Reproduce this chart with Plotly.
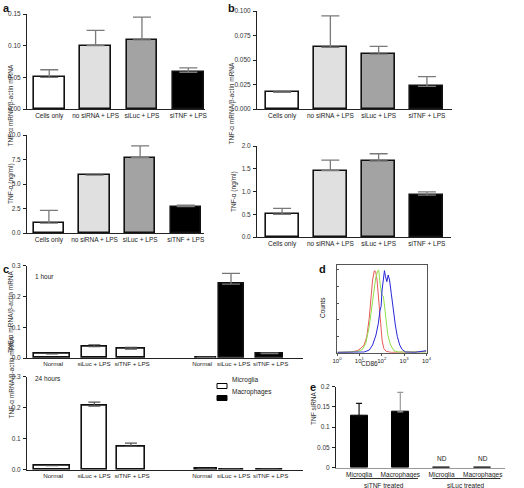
import plotly.graph_objects as go

W, H = 524, 488
FONT = "Arial, Liberation Sans, DejaVu Sans"

# ---------------- data ----------------
ab_categories = ["Cells only", "no siRNA + LPS", "siLuc + LPS", "siTNF + LPS"]
ab_colors = ["#ffffff", "#e0e0e0", "#a3a3a3", "#000000"]

a_mrna = [0.050, 0.100, 0.109, 0.058]
a_mrna_err = [0.012, 0.024, 0.036, 0.007]
a_protein = [1.0, 5.9, 7.7, 2.7]
a_protein_err = [1.3, 0.0, 1.2, 0.15]

b_mrna = [0.017, 0.063, 0.056, 0.023]
b_mrna_err = [0.0005, 0.032, 0.008, 0.010]
b_protein = [0.50, 1.46, 1.67, 0.92]
b_protein_err = [0.13, 0.23, 0.16, 0.07]

c_categories = ["Normal", "siLuc + LPS", "siTNF + LPS"]
c1_microglia = [0.013, 0.037, 0.029]
c1_microglia_err = [0.0, 0.006, 0.006]
c1_macrophages = [0.002, 0.240, 0.014]
c1_macrophages_err = [0.0, 0.035, 0.002]
c24_microglia = [0.013, 0.205, 0.075]
c24_microglia_err = [0.0, 0.013, 0.011]
c24_macrophages = [0.002, 0.001, 0.001]
c24_macrophages_err = [0.0, 0.0, 0.0]

# panel d: flow cytometry histograms (CD86 intensity, % of max counts)
d_red_x = [1.07, 4.0, 8.1, 11.5, 16.3, 21.5, 27.5, 32.7, 38.9, 46.6, 53.4, 61.5, 72.9, 86.9, 103.5, 123, 158, 264, 1513, 9800]
d_red_y = [0.4, 0.8, 2.4, 5.2, 9.3, 19.4, 41.5, 63.7, 87.9, 99.2, 98.0, 87.9, 63.7, 35.5, 15.3, 5.2, 1.6, 0.4, 0.4, 1.2]
d_green_x = [1.07, 8.1, 13.7, 19.4, 27.5, 35.1, 43.3, 53.4, 65.8, 73.1, 84.0, 100, 119, 147, 187, 248, 351, 533, 3055, 9800]
d_green_y = [0.4, 1.2, 4.0, 11.3, 31.5, 51.6, 71.8, 89.9, 98.8, 100, 83.9, 69.8, 67.7, 43.5, 21.4, 9.3, 2.4, 0.8, 0.4, 0.8]
d_blue_x = [1.07, 16.3, 27.5, 39.0, 55.2, 70.5, 84.0, 93.3, 103.5, 119, 132, 147, 169, 194, 223, 266, 327, 404, 498, 635, 811, 1150, 3055, 9800]
d_blue_y = [0.4, 0.8, 3.2, 9.3, 21.4, 35.5, 51.6, 55.6, 75.8, 89.9, 99.2, 91.9, 85.9, 93.9, 87.9, 71.8, 51.6, 33.5, 19.4, 9.3, 4.0, 0.8, 0.4, 2.4]
d_tick_vals = [1, 10, 100, 1000, 10000]
d_tick_text = ["10<sup>0</sup>", "10<sup>1</sup>", "10<sup>2</sup>", "10<sup>3</sup>", "10<sup>4</sup>"]

e_categories = ["Microglia", "Macrophages", "Microglia", "Macrophages"]
e_groups = ["siTNF treated", "siLuc treated"]
e_values = [0.128, 0.138, 0.0005, 0.0005]
e_err = [0.031, 0.048, 0.0, 0.0]
e_nd = [False, False, True, True]

# ---------------- helpers ----------------
def dx(l, r):
    return [l / W, r / W]

def dy(top, bottom):
    return [1 - bottom / H, 1 - top / H]

fig = go.Figure()
layout = dict(
    width=W, height=H, margin=dict(l=0, r=0, t=0, b=0),
    paper_bgcolor="white", plot_bgcolor="white", showlegend=False,
    font=dict(family=FONT, size=7, color="#222"),
    bargap=0,
)
annotations = []
shapes = []

def yaxis_common(rng, dtick, fmt, dom, anchor):
    return dict(domain=dom, anchor=anchor, range=rng, dtick=dtick, tickformat=fmt,
                showline=True, linecolor="#222", linewidth=1, ticks="outside",
                ticklen=3, tickcolor="#222", showgrid=False, zeroline=False,
                automargin=False, ticklabelstandoff=1,
                tickfont=dict(size=6.5, family=FONT, color="#333"))

def xaxis_common(rng, tickvals, ticktext, dom, anchor, size=6.5):
    return dict(domain=dom, anchor=anchor, range=rng, tickvals=tickvals, ticktext=ticktext,
                showline=True, linecolor="#222", linewidth=1, ticks="", showgrid=False,
                zeroline=False, automargin=False, tickangle=0,
                tickfont=dict(size=size, family=FONT, color="#222"))

def add_ab(idx, vals, errs, xdom, ydom, yr, dtick, fmt, xr, width, ytitle, title_x, title_y):
    xn = "x" if idx == 1 else f"x{idx}"
    yn = "y" if idx == 1 else f"y{idx}"
    pos = list(range(len(ab_categories)))
    fig.add_trace(go.Bar(
        x=pos, y=vals, width=width, xaxis=xn, yaxis=yn,
        marker=dict(color=ab_colors, line=dict(color="#111", width=1.6)),
        error_y=dict(type="data", symmetric=False, array=errs, arrayminus=[0] * len(errs),
                     color="#7a7a7a", thickness=1.3, width=9),
    ))
    layout["xaxis" if idx == 1 else f"xaxis{idx}"] = xaxis_common(xr, pos, ab_categories, xdom, yn)
    layout["yaxis" if idx == 1 else f"yaxis{idx}"] = yaxis_common(yr, dtick, fmt, ydom, xn)
    annotations.append(dict(text=ytitle, textangle=-90, x=title_x / W, y=1 - title_y / H,
                            xref="paper", yref="paper", showarrow=False,
                            font=dict(size=6.5, family=FONT, color="#333")))

# panel a
add_ab(1, a_mrna, a_mrna_err, dx(27, 205), dy(14, 109), [0, 0.15], 0.05, ".2f",
       [-0.48, 3.36], 0.66, "TNF-α mRNA/β-actin mRNA", 5, 62)
add_ab(2, a_protein, a_protein_err, dx(27, 204), dy(135, 233), [0, 10], 2.5, ".1f",
       [-0.48, 3.4], 0.66, "TNF-α (ng/ml)", 5, 184)
# panel b
add_ab(3, b_mrna, b_mrna_err, dx(257, 452), dy(11, 109), [0, 0.1], 0.025, ".3f",
       [-0.52, 3.52], 0.68, "TNF-α mRNA/β-actin mRNA", 231, 60)
add_ab(4, b_protein, b_protein_err, dx(257, 451), dy(146, 237), [0, 2.0], 0.5, ".1f",
       [-0.52, 3.5], 0.68, "TNF-α (ng/ml)", 234, 192)

# panel c
c_pos_micro = [0, 1.1, 2.05]
c_pos_macro = [4.0, 4.65, 5.65]
c_tick_pos = [0.03, 1.09, 2.08, 3.9, 4.72, 5.68]
c_w_micro = [0.94, 0.65, 0.73]
c_w_macro = [0.55, 0.65, 0.68]
c_xrange = [-0.65, 6.52]

def add_c(idx, micro, micro_err, macro, macro_err, ydom, label, label_y, title_y):
    xn, yn = f"x{idx}", f"y{idx}"
    fig.add_trace(go.Bar(x=c_pos_micro, y=micro, width=c_w_micro, xaxis=xn, yaxis=yn,
                         marker=dict(color="white", line=dict(color="#111", width=1.6)),
                         error_y=dict(type="data", symmetric=False, array=micro_err,
                                      arrayminus=[0] * 3, color="#555", thickness=1.2, width=6)))
    fig.add_trace(go.Bar(x=c_pos_macro, y=macro, width=c_w_macro, xaxis=xn, yaxis=yn,
                         marker=dict(color="black", line=dict(color="#111", width=1.6)),
                         error_y=dict(type="data", symmetric=False, array=macro_err,
                                      arrayminus=[0] * 3, color="#777", thickness=1.3, width=9)))
    layout[f"xaxis{idx}"] = xaxis_common(c_xrange, c_tick_pos,
                                         c_categories + c_categories, dx(27, 303), yn, size=6.2)
    layout[f"yaxis{idx}"] = yaxis_common([0, 0.3], 0.1, ".1f", ydom, xn)
    annotations.append(dict(text=label, x=33 / W, y=1 - label_y / H, xref="paper", yref="paper",
                            xanchor="left", showarrow=False,
                            font=dict(size=6.5, family=FONT, color="#222")))
    annotations.append(dict(text="TNF-α mRNA/β-actin mRNA", textangle=-90, x=5 / W,
                            y=1 - title_y / H, xref="paper", yref="paper", showarrow=False,
                            font=dict(size=6.5, family=FONT, color="#333")))

add_c(5, c1_microglia, c1_microglia_err, c1_macrophages, c1_macrophages_err,
      dy(265.7, 358), "1 hour", 276, 312)
add_c(6, c24_microglia, c24_microglia_err, c24_macrophages, c24_macrophages_err,
      dy(376.7, 469.7), "24 hours", 384, 421)

# legend for c (drawn manually)
for i, (name, col) in enumerate([("Microglia", "white"), ("Macrophages", "black")]):
    yc = 386 + i * 12
    shapes.append(dict(type="rect", xref="paper", yref="paper", x0=217 / W, x1=227 / W,
                       y0=1 - (yc + 2.5) / H, y1=1 - (yc - 2.5) / H,
                       fillcolor=col, line=dict(color="black", width=1)))
    annotations.append(dict(text=name, x=230 / W, y=1 - yc / H, xref="paper", yref="paper",
                            xanchor="left", showarrow=False,
                            font=dict(size=6.5, family=FONT, color="#222")))

# panel d
for xs, ys, col in [(d_red_x, d_red_y, "#e8585a"), (d_green_x, d_green_y, "#8ee04a"),
                    (d_blue_x, d_blue_y, "#2626d8")]:
    fig.add_trace(go.Scatter(x=xs, y=ys, mode="lines", xaxis="x7", yaxis="y7",
                             line=dict(color=col, width=1)))
layout["xaxis7"] = dict(domain=dx(337, 426.5), anchor="y7", type="log", range=[0, 4],
                        tickvals=d_tick_vals, ticktext=d_tick_text, showline=True, mirror=True,
                        linecolor="#555", linewidth=1, ticks="outside", ticklen=2,
                        tickcolor="#555", showgrid=False, zeroline=False, automargin=False,
                        tickangle=0, tickfont=dict(size=6, family=FONT, color="#222"))
layout["yaxis7"] = dict(domain=dy(265, 352.7), anchor="x7", range=[0, 106], dtick=20,
                        showticklabels=False, showline=True, mirror=True, linecolor="#555",
                        linewidth=1, ticks="inside", ticklen=2, tickcolor="#555",
                        showgrid=False, zeroline=False, automargin=False)
annotations.append(dict(text="CD86", x=380 / W, y=1 - 369 / H, xref="paper", yref="paper",
                        showarrow=False, font=dict(size=6.5, family=FONT, color="#222")))
annotations.append(dict(text="Counts", textangle=-90, x=322 / W, y=1 - 308 / H, xref="paper",
                        yref="paper", showarrow=False, font=dict(size=6.5, family=FONT, color="#222")))

# panel e
e_pos = list(range(len(e_categories)))
for i in range(len(e_values)):
    fig.add_trace(go.Bar(x=[e_pos[i]], y=[e_values[i]], width=0.41, xaxis="x8", yaxis="y8",
                         marker=dict(color="black", line=dict(color="black", width=1)),
                         error_y=dict(type="data", symmetric=False, array=[e_err[i]],
                                      arrayminus=[0], color="#111" if i == 0 else "#999",
                                      thickness=1.2, width=3, visible=e_err[i] > 0)))
    if e_nd[i]:
        annotations.append(dict(text="ND", x=e_pos[i], y=e_values[i], xref="x8", yref="y8",
                                yanchor="bottom", yshift=4, showarrow=False,
                                font=dict(size=6.5, family=FONT, color="#222")))
layout["xaxis8"] = xaxis_common([-0.56, 3.54], e_pos, e_categories, dx(336, 505), "y8", size=6.5)
layout["xaxis8"]["linecolor"] = "#999"
layout["xaxis8"]["ticklabelstandoff"] = 0
layout["yaxis8"] = yaxis_common([0, 0.2], 0.05, "", dy(386.7, 467.7), "x8")
layout["yaxis8"]["tickvals"] = [0, 0.05, 0.1, 0.15, 0.2]
layout["yaxis8"]["ticktext"] = ["0", "0.05", "0.1", "0.15", "0.2"]
for g, name in enumerate(e_groups):
    start, end = g * 2 - 0.22, g * 2 + 1.43
    shapes.append(dict(type="line", xref="x8", yref="paper", x0=start, x1=end,
                       y0=1 - 478.5 / H, y1=1 - 478.5 / H, line=dict(color="#333", width=1)))
    annotations.append(dict(text=name, x=(start + end) / 2, y=1 - 480 / H, xref="x8",
                            yref="paper", yanchor="top", showarrow=False,
                            font=dict(size=6.5, family=FONT, color="#222")))
annotations.append(dict(text="TNF siRNA", textangle=-90, x=313 / W, y=1 - 427 / H, xref="paper",
                        yref="paper", showarrow=False, font=dict(size=6.5, family=FONT, color="#333")))

# panel letters
for letter, x, y in [("a", 1, 0), ("b", 226, 0), ("c", 1, 261), ("d", 317, 261), ("e", 308, 379)]:
    annotations.append(dict(text=f"<b>{letter}</b>", x=x / W, y=1 - y / H, xref="paper",
                            yref="paper", xanchor="left", yanchor="top", showarrow=False,
                            font=dict(size=11, family=FONT, color="#111")))

layout["annotations"] = annotations
layout["shapes"] = shapes
fig.update_layout(**layout)
fig.write_html("out.html", config={"displayModeBar": False},
               post_script="document.body.style.margin='0';document.body.style.overflow='hidden';")
